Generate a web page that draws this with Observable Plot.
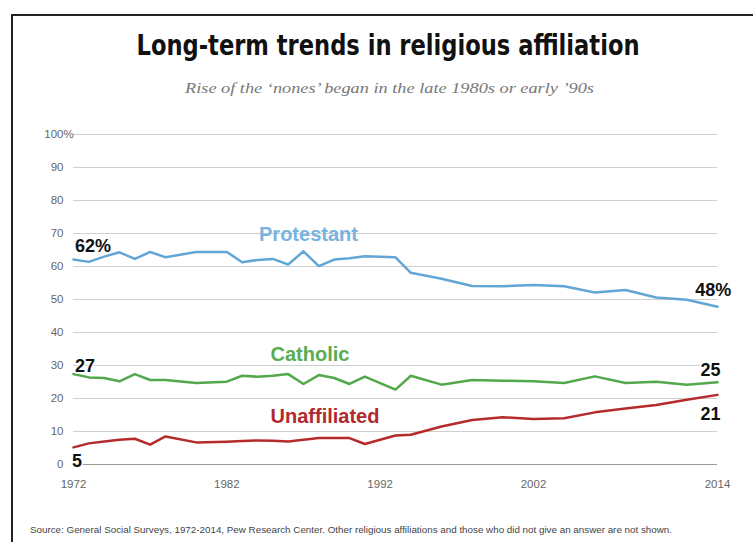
<!DOCTYPE html>
<html>
<head>
<meta charset="utf-8">
<script src="https://cdn.jsdelivr.net/npm/d3@7"></script>
<script src="https://cdn.jsdelivr.net/npm/@observablehq/plot@0.6"></script>
<style>
  html, body { margin: 0; padding: 0; background: #fff; width: 753px; height: 542px; overflow: hidden; }
  #frame { position: absolute; left: 11px; top: 14px; width: 800px; height: 600px; border-left: 2px solid #222; border-top: 2px solid #222; }
  #header { position: absolute; left: 0; top: 0; }
  #chart { position: absolute; left: 0; top: 110px; }
  #footer { position: absolute; left: 0; top: 515px; }
</style>
</head>
<body>
<div id="frame"></div>
<svg id="header" width="753" height="110">
  <text id="title" x="388" y="55" text-anchor="middle" textLength="503" lengthAdjust="spacingAndGlyphs"
        font-family="DejaVu Sans Condensed, DejaVu Sans" font-weight="bold" font-size="28" fill="#111">Long-term trends in religious affiliation</text>
  <text id="subtitle" x="389.5" y="93" text-anchor="middle" textLength="409" lengthAdjust="spacingAndGlyphs"
        font-family="Liberation Serif, DejaVu Serif" font-style="italic" font-size="15" fill="#777">Rise of the ‘nones’ began in the late 1980s or early ’90s</text>
</svg>
<div id="chart"></div>
<svg id="footer" width="753" height="27">
  <text x="30" y="18" textLength="642" lengthAdjust="spacingAndGlyphs" font-family="Liberation Sans, Arial" font-size="9.5" fill="#444">Source: General Social Surveys, 1972-2014, Pew Research Center. Other religious affiliations and those who did not give an answer are not shown.</text>
</svg>
<script>
const years = [1972,1973,1974,1975,1976,1977,1978,1980,1982,1983,1984,1985,1986,1987,1988,1989,1990,1991,1993,1994,1996,1998,2000,2002,2004,2006,2008,2010,2012,2014];
const protestant = [62.1,61.4,63.0,64.3,62.3,64.4,62.8,64.4,64.4,61.3,62.0,62.3,60.6,64.6,60.1,62.1,62.5,63.1,62.8,58.1,56.3,54.1,54.0,54.4,54.0,52.1,52.9,50.6,49.9,47.8];
const catholic = [27.4,26.4,26.2,25.2,27.4,25.6,25.6,24.7,25.1,26.9,26.6,26.9,27.4,24.4,27.1,26.2,24.4,26.6,22.7,26.9,24.2,25.6,25.4,25.2,24.7,26.7,24.7,25.1,24.2,24.9];
const unaffiliated = [5.2,6.4,7.0,7.5,7.8,6.0,8.5,6.7,6.9,7.1,7.3,7.2,7.0,7.5,8.0,8.0,8.0,6.2,8.8,9.0,11.5,13.5,14.3,13.8,14.0,15.8,17.0,18.0,19.6,21.1];

const seriesNames = ["Protestant", "Catholic", "Unaffiliated"];
const seriesColors = ["#62a6d6", "#52a84a", "#b52a2b"];
const labelColors = ["#78b4e0", "#5aac50", "#b3282d"];

const yTicks = [0,10,20,30,40,50,60,70,80,90,100];
const xTicks = [1972,1982,1992,2002,2014];

// series name labels (position in data units)
const nameLabelX = [1984.1, 1984.85, 1984.85];
const nameLabelY = [69.7, 33.3, 14.5];

// endpoint value labels
const valueLabels = ["62%", "48%", "27", "25", "5", "21"];
const valueLabelX = [1972.1, 2014.9, 1972.1, 2014.2, 1971.9, 2014.2];
const valueLabelY = [66.0, 52.7, 29.7, 28.5, 0.9, 15.2];
const valueLabelAnchor = ["start", "end", "start", "end", "start", "end"];

const seriesValues = [protestant, catholic, unaffiliated];
const rows = seriesNames.flatMap((name, i) => years.map((year, j) => ({series: name, year, value: seriesValues[i][j]})));
const nameRows = seriesNames.map((name, i) => ({name, x: nameLabelX[i], y: nameLabelY[i], color: labelColors[i]}));
const valueRows = valueLabels.map((t, i) => ({t, x: valueLabelX[i], y: valueLabelY[i], a: valueLabelAnchor[i]}));

const valueTextOpts = {x: "x", y: "y", text: "t", fill: "#111", fontSize: 18, fontWeight: "bold", fontFamily: "Liberation Sans, Arial", stroke: "white", strokeWidth: 3, paintOrder: "stroke"};

const chart = Plot.plot({
  width: 753,
  height: 400,
  marginLeft: 73,
  marginRight: 36,
  marginTop: 24,
  marginBottom: 46,
  style: {fontFamily: "Liberation Sans, Arial", fontSize: "11.5px", color: "#666", background: "transparent"},
  x: {domain: [1972, 2014], ticks: xTicks, tickFormat: "d", tickSize: 0, tickPadding: 15, label: null},
  y: {domain: [0, 100], ticks: yTicks, tickSize: 0, tickPadding: 10, label: null},
  color: {domain: seriesNames, range: seriesColors},
  marks: [
    Plot.ruleY(yTicks.filter(d => d > 0), {stroke: "#cfcfcf", strokeWidth: 1}),
    Plot.ruleY([0], {stroke: "#9a9a9a", strokeWidth: 1}),
    Plot.text([100], {y: d => d, frameAnchor: "left", dx: -10, text: () => "%", textAnchor: "start", fill: "#666", fontSize: 11.5}),
    Plot.lineY(rows, {x: "year", y: "value", z: "series", stroke: "series", strokeWidth: 2.5, strokeLinejoin: "round"}),
    Plot.text(nameRows, {x: "x", y: "y", text: "name", fill: d => d.color, textAnchor: "start", fontSize: 20, fontWeight: "bold", fontFamily: "Liberation Sans, Arial"}),
    Plot.text(valueRows.filter(d => d.a === "start"), {...valueTextOpts, textAnchor: "start"}),
    Plot.text(valueRows.filter(d => d.a === "end"), {...valueTextOpts, textAnchor: "end"})
  ]
});
document.getElementById("chart").appendChild(chart);
</script>
</body>
</html>
